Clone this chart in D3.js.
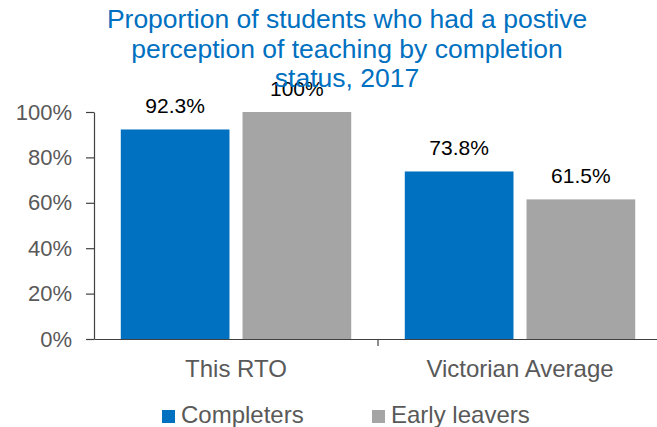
<!DOCTYPE html>
<meta charset="utf-8">
<style>
  body { margin: 0; background: #fff; }
  text { font-family: "Liberation Sans", Arial, sans-serif; }
  .axis path, .axis line { stroke: #404040; stroke-width: 1.2px; }
  .axis text { fill: #595959; }
</style>

<body>
  <script src="https://d3js.org/d3.v7.min.js"></script>
  <script>

    // chart data
    var categories = ["This RTO", "Victorian Average"];
    var seriesNames = ["Completers", "Early leavers"];
    var completers = [0.923, 0.738];
    var earlyLeavers = [1.0, 0.615];
    var valueLabels = [["92.3%", "100%"], ["73.8%", "61.5%"]];
    var yTicks = [0, 0.2, 0.4, 0.6, 0.8, 1.0];
    var titleLines = ["Proportion of students who had a postive",
      "perception of teaching by completion", "status, 2017"];

    var colors = ["#0070C0", "#A5A5A5"];

    var width = 657, height = 427;

    var svg = d3.select("body").append("svg")
      .attr("width", width)
      .attr("height", height);

    // scales - the plot runs off the right edge like the original
    var x0 = d3.scaleBand().domain(categories).range([94, 662]);
    var x1 = d3.scaleBand().domain(seriesNames)
      .range([0, x0.bandwidth()])
      .paddingInner(0.107)
      .paddingOuter(0.22);
    var y = d3.scaleLinear().domain([0, 1]).range([339, 112]);

    var rows = categories.map(function (c, i) {
      return { cat: c, vals: [completers[i], earlyLeavers[i]], labels: valueLabels[i] };
    });

    // bars
    var groups = svg.selectAll(".grp")
      .data(rows)
      .enter().append("g")
      .attr("class", "grp")
      .attr("transform", function (d) { return "translate(" + x0(d.cat) + ",0)"; });

    groups.selectAll("rect")
      .data(function (d) { return d.vals.map(function (v, j) { return { s: seriesNames[j], v: v, j: j }; }); })
      .enter().append("rect")
      .attr("x", function (d) { return x1(d.s); })
      .attr("y", function (d) { return y(d.v); })
      .attr("width", x1.bandwidth())
      .attr("height", function (d) { return y(0) - y(d.v); })
      .attr("fill", function (d) { return colors[d.j]; });

    // value labels above bars
    groups.selectAll(".lbl")
      .data(function (d) { return d.vals.map(function (v, j) { return { s: seriesNames[j], v: v, t: d.labels[j] }; }); })
      .enter().append("text")
      .attr("class", "lbl")
      .attr("x", function (d) { return x1(d.s) + x1.bandwidth() / 2; })
      .attr("y", function (d) { return y(d.v) - 16; })
      .attr("text-anchor", "middle")
      .style("font-size", "21px")
      .style("fill", "#000")
      .text(function (d) { return d.t; });

    // y axis
    var yAxis = svg.append("g")
      .attr("class", "axis")
      .attr("transform", "translate(94,0)")
      .call(d3.axisLeft(y).tickValues(yTicks).tickFormat(d3.format(".0%"))
        .tickSize(8).tickSizeOuter(0).tickPadding(14));
    yAxis.selectAll("text").style("font-size", "22px");

    // x axis
    var xAxis = svg.append("g")
      .attr("class", "axis")
      .attr("transform", "translate(0,339)")
      .call(d3.axisBottom(x0).tickSize(0).tickSizeOuter(0).tickPadding(0));
    xAxis.selectAll("text")
      .attr("dy", null)
      .attr("y", 38)
      .style("font-size", "24px");
    // separator ticks between categories
    xAxis.selectAll(".sep")
      .data(categories.slice(1))
      .enter().append("line")
      .attr("class", "sep")
      .attr("x1", function (d) { return x0(d); })
      .attr("x2", function (d) { return x0(d); })
      .attr("y1", 0)
      .attr("y2", 7);

    // legend
    var legendX = [162, 372];
    var legend = svg.selectAll(".legend")
      .data(seriesNames)
      .enter().append("g")
      .attr("class", "legend")
      .attr("transform", function (d, i) { return "translate(" + legendX[i] + ",410)"; });
    legend.append("rect")
      .attr("width", 13)
      .attr("height", 13)
      .attr("fill", function (d, i) { return colors[i]; });
    legend.append("text")
      .attr("x", 19)
      .attr("y", 13)
      .style("font-size", "24px")
      .style("fill", "#595959")
      .text(function (d) { return d; });

    // title
    svg.append("text")
      .attr("text-anchor", "middle")
      .style("font-size", "26.5px")
      .style("fill", "#0070C0")
      .selectAll("tspan")
      .data(titleLines)
      .enter().append("tspan")
      .attr("x", 347)
      .attr("y", function (d, i) { return 28 + i * 29.5; })
      .text(function (d) { return d; });

  </script>
</body>
